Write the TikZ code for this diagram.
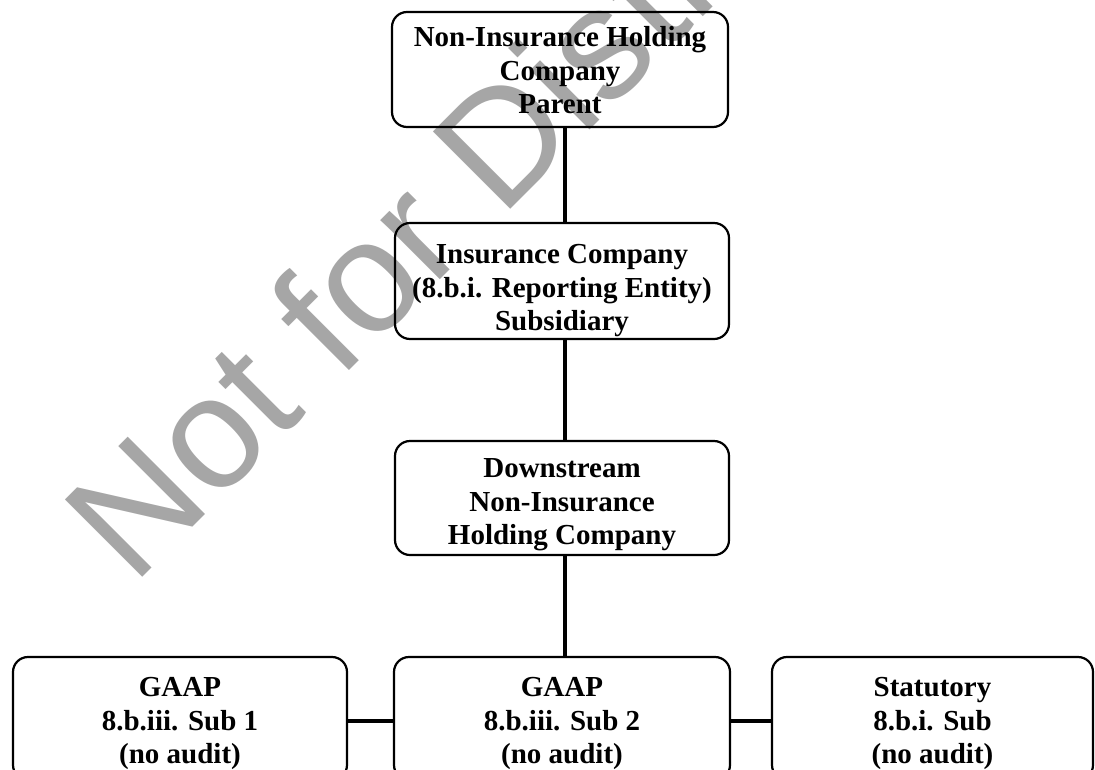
\documentclass[tikz,border=0pt]{standalone}
\usepackage{fontspec}
\setmainfont{Liberation Serif}
\newfontfamily\markfont{Liberation Sans}
\definecolor{markgray}{RGB}{166,166,166}
\begin{document}
\begin{tikzpicture}[x=1pt,y=-1pt,
  orgbox/.style={draw=black, line width=2.2pt, rounded corners=15pt, inner sep=0pt},
  boxtext/.style={align=center, inner sep=0pt,
    font=\fontsize{29}{33.5}\selectfont\bfseries},
  link/.style={draw=black, line width=4pt}]
  \useasboundingbox (0,0) rectangle (1095,769);
  \clip (0,0) rectangle (1095,769);

  % watermark, laid down first so the chart sits on top of it
  \node[anchor=base west, inner sep=0pt, rotate=45, text=markgray,
        font=\markfont\fontsize{159}{159}\selectfont]
        (mark) at (133,587) {Not for Distribution};

  % boxes
  \node[orgbox, minimum width=336pt, minimum height=115pt] (parent) at (560,69.5) {};
  \node[orgbox, minimum width=334pt, minimum height=116pt] (ins) at (562,281) {};
  \node[orgbox, minimum width=334pt, minimum height=114pt] (down) at (562,498) {};
  \node[orgbox, minimum width=334pt, minimum height=123pt] (subA) at (180,718.5) {};
  \node[orgbox, minimum width=336pt, minimum height=123pt] (subB) at (562,718.5) {};
  \node[orgbox, minimum width=321pt, minimum height=123pt] (subC) at (932.5,718.5) {};

  % box labels
  \node[boxtext] (parentT) at ([yshift=-1pt]parent.center)
    {Non-Insurance Holding\\Company\\Parent};
  \node[boxtext] (insT) at ([yshift=-10pt]ins.center)
    {Insurance Company\\(8.b.i. Reporting Entity)\\Subsidiary};
  \node[boxtext] (downT) at ([yshift=-7pt]down.center)
    {Downstream\\Non-Insurance\\Holding Company};
  \node[boxtext] (subAT) at ([yshift=-5pt]subA.center)
    {GAAP\\8.b.iii. Sub 1\\(no audit)};
  \node[boxtext] (subBT) at ([yshift=-5pt]subB.center)
    {GAAP\\8.b.iii. Sub 2\\(no audit)};
  \node[boxtext] (subCT) at ([yshift=-5pt]subC.center)
    {Statutory\\8.b.i. Sub\\(no audit)};

  % connector guide lines
  \coordinate (spine) at (565,0);
  \coordinate (row) at (0,721);

  \draw[link] (parent.south -| spine) -- (ins.north -| spine);
  \draw[link] (ins.south -| spine) -- (down.north -| spine);
  \draw[link] (down.south -| spine) -- (subB.north -| spine);
  \draw[link] (subA.east |- row) -- (subB.west |- row);
  \draw[link] (subB.east |- row) -- (subC.west |- row);
\end{tikzpicture}
\end{document}
